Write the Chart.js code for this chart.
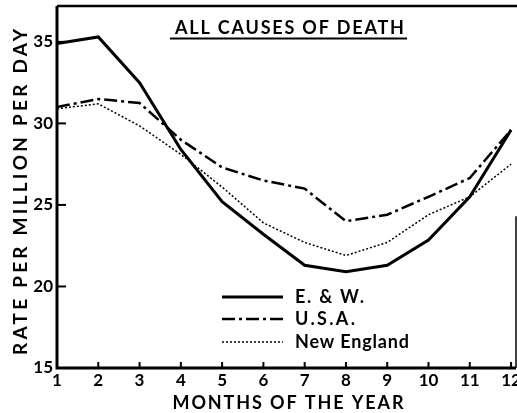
<!DOCTYPE html>
<html>
<head>
<meta charset="utf-8">
<script src="https://cdn.jsdelivr.net/npm/chart.js@4/dist/chart.umd.min.js"></script>
<style>
  html, body { margin: 0; padding: 0; background: #fff; }
  #chart { display: block; }
</style>
</head>
<body>
<canvas id="chart" width="517" height="413"></canvas>
<script>
// Monthly death rates, all causes (rate per million per day)
var MONTHS = [1, 2, 3, 4, 5, 6, 7, 8, 9, 10, 11, 12];
var EW = [34.9, 35.3, 32.5, 28.4, 25.2, 23.2, 21.3, 20.9, 21.3, 22.85, 25.5, 29.6];
var USA = [31.0, 31.5, 31.25, 29.0, 27.3, 26.5, 26.0, 24.0, 24.4, 25.5, 26.65, 29.6];
var NEW_ENGLAND = [30.9, 31.2, 29.85, 28.1, 26.1, 23.9, 22.7, 21.9, 22.7, 24.4, 25.5, 27.5];
var Y_TICKS = [15, 20, 25, 30, 35];
var SERIES_LABELS = ['E. & W.', 'U.S.A.', 'New England'];

var INK = '#000';
var FONT = 'Lato, "Open Sans", sans-serif';

function points(values) {
    return MONTHS.map(function(m, i) { return { x: m, y: values[i] }; });
}

// draw text stretched to a given width using letter spacing
function fitText(ctx, text, x, y, width, font, align) {
    ctx.font = font;
    ctx.letterSpacing = '0px';
    var w = ctx.measureText(text).width;
    var extra = (width - w) / Math.max(text.length - 1, 1);
    ctx.letterSpacing = extra.toFixed(2) + 'px';
    ctx.textAlign = 'left';
    ctx.fillText(text, align === 'left' ? x : x - width / 2, y);
    ctx.letterSpacing = '0px';
}

var framePlugin = {
    id: 'frame',
    afterDraw: function(chart) {
        var ctx = chart.ctx;
        var a = chart.chartArea;
        var xs = chart.scales.x;
        var ys = chart.scales.y;
        ctx.save();
        ctx.strokeStyle = INK;
        ctx.fillStyle = INK;
        ctx.setLineDash([]);
        ctx.lineCap = 'butt';

        // axes
        ctx.lineWidth = 3;
        ctx.beginPath();
        ctx.moveTo(a.left, a.top);
        ctx.lineTo(a.left, a.bottom);
        ctx.lineTo(a.right, a.bottom);
        ctx.stroke();
        ctx.lineWidth = 2.5;
        ctx.beginPath();
        ctx.moveTo(a.left, a.top);
        ctx.lineTo(a.right + 1, a.top);
        ctx.stroke();
        ctx.lineWidth = 1.5;
        ctx.beginPath();
        ctx.moveTo(a.right, ys.getPixelForValue(24.3));
        ctx.lineTo(a.right, a.bottom);
        ctx.stroke();

        // tick marks (inside) and labels
        ctx.lineWidth = 2;
        ctx.font = 'bold 17px ' + FONT;
        ctx.textBaseline = 'middle';
        ctx.textAlign = 'center';
        MONTHS.forEach(function(m) {
            var px = xs.getPixelForValue(m);
            ctx.beginPath();
            ctx.moveTo(px, a.bottom);
            ctx.lineTo(px, a.bottom - 6);
            ctx.stroke();
            ctx.fillText(String(m), px, a.bottom + 13);
        });
        ctx.textAlign = 'right';
        Y_TICKS.forEach(function(v) {
            var py = ys.getPixelForValue(v);
            if (v !== 15) {
                ctx.beginPath();
                ctx.moveTo(a.left, py);
                ctx.lineTo(a.left + 9, py);
                ctx.stroke();
            }
            ctx.fillText(String(v), a.left - 4, py);
        });

        // axis titles
        ctx.textBaseline = 'middle';
        fitText(ctx, 'MONTHS OF THE YEAR', 288, 403, 231, 'bold 18px ' + FONT);
        ctx.save();
        ctx.translate(21, 192);
        ctx.rotate(-Math.PI / 2);
        fitText(ctx, 'RATE PER MILLION PER DAY', 0, 0, 326, 'bold 19px ' + FONT);
        ctx.restore();

        // chart title, underlined
        fitText(ctx, 'ALL CAUSES OF DEATH', 289.5, 28.5, 229, 'bold 18px ' + FONT);
        ctx.lineWidth = 2;
        ctx.beginPath();
        ctx.moveTo(170, 38.5);
        ctx.lineTo(407, 38.5);
        ctx.stroke();

        // legend inside plot
        var rows = [297, 319, 342];
        var widths = [69, 60, 114];
        chart.data.datasets.forEach(function(ds, i) {
            var y = rows[i];
            ctx.strokeStyle = ds.borderColor;
            ctx.lineWidth = ds.borderWidth;
            ctx.setLineDash(ds.borderDash || []);
            ctx.beginPath();
            ctx.moveTo(222, y);
            ctx.lineTo(283, y);
            ctx.stroke();
            ctx.setLineDash([]);
            ctx.textBaseline = 'middle';
            fitText(ctx, ds.label, 295, y, widths[i], 'bold 18px ' + FONT, 'left');
        });
        ctx.restore();
    }
};

new Chart(document.getElementById('chart').getContext('2d'), {
    type: 'line',
    data: {
        datasets: [
            {
                label: SERIES_LABELS[0],
                data: points(EW),
                borderColor: INK,
                borderWidth: 3,
                pointRadius: 0,
                tension: 0
            },
            {
                label: SERIES_LABELS[1],
                data: points(USA),
                borderColor: INK,
                borderWidth: 2.5,
                borderDash: [13, 4, 3, 4],
                pointRadius: 0,
                tension: 0
            },
            {
                label: SERIES_LABELS[2],
                data: points(NEW_ENGLAND),
                borderColor: INK,
                borderWidth: 1.5,
                borderDash: [2, 2],
                pointRadius: 0,
                tension: 0
            }
        ]
    },
    options: {
        responsive: false,
        animation: false,
        devicePixelRatio: 1,
        layout: { padding: { left: 57, top: 6, right: 1, bottom: 45 } },
        plugins: {
            legend: { display: false },
            tooltip: { enabled: false }
        },
        scales: {
            x: {
                type: 'linear',
                min: 1,
                max: 12.12,
                display: false
            },
            y: {
                min: 15,
                max: 37.2,
                display: false,
                afterBuildTicks: function(scale) {
                    scale.ticks = Y_TICKS.map(function(v) { return { value: v }; });
                }
            }
        }
    },
    plugins: [framePlugin]
});
</script>
</body>
</html>
